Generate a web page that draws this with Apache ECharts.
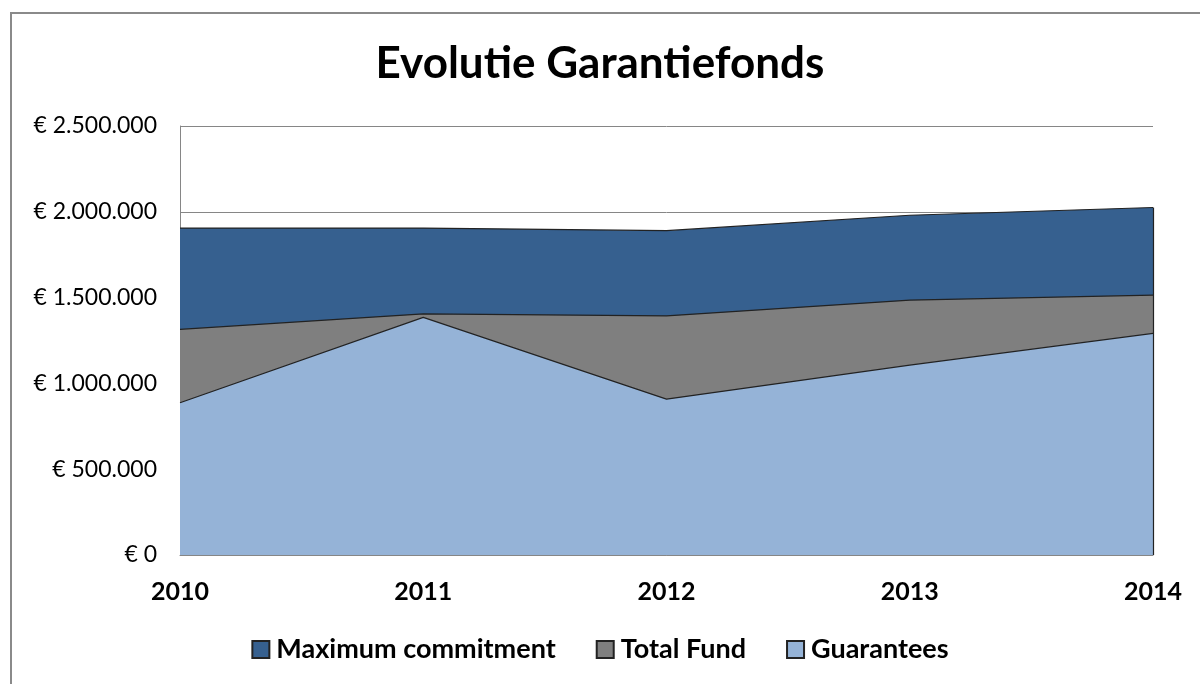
<!DOCTYPE html>
<html>
<head>
<meta charset="utf-8">
<title>Evolutie Garantiefonds</title>
<script src="https://cdn.jsdelivr.net/npm/echarts@6/dist/echarts.min.js"></script>
<style>
  html, body { margin: 0; padding: 0; background: #fff; }
  #main { width: 1200px; height: 684px; }
</style>
</head>
<body>
<div id="main"></div>
<script>
// data
var years = ['2010', '2011', '2012', '2013', '2014'];
var maxCommitment = [1905000, 1905000, 1890000, 1980000, 2025000];
var totalFund = [1315000, 1405000, 1393000, 1485000, 1515000];
var guarantees = [887000, 1385000, 908000, 1107000, 1292000];
var yTicks = [0, 500000, 1000000, 1500000, 2000000, 2500000];

var fontName = 'Lato';

function euro(v) {
  var s = String(Math.round(v)).replace(/\B(?=(\d{3})+(?!\d))/g, '.');
  return '€ ' + s;
}

var chartDom = document.getElementById('main');
var myChart = echarts.init(chartDom);
var option;

option = {
  animation: false,
  textStyle: { fontFamily: fontName },
  title: {
    text: 'Evolutie Garantiefonds',
    left: 'center',
    top: 37,
    textStyle: { fontSize: 44, fontWeight: 'bold', color: '#000', fontFamily: fontName }
  },
  graphic: [
    {
      type: 'rect',
      shape: { x: 11, y: 13, width: 1400, height: 900 },
      style: { fill: 'none', stroke: '#8a8a8a', lineWidth: 2 },
      silent: true
    }
  ],
  legend: {
    bottom: 16,
    left: 'center',
    itemWidth: 17,
    itemHeight: 17,
    itemGap: 40,
    icon: 'rect',
    textStyle: { fontSize: 27, fontWeight: 'bold', color: '#000', fontFamily: fontName, padding: [0, 0, 0, 2] },
    data: ['Maximum commitment', 'Total Fund', 'Guarantees']
  },
  grid: {
    left: 180,
    right: 47,
    top: 126,
    bottom: 129
  },
  xAxis: {
    type: 'category',
    boundaryGap: false,
    data: years,
    axisLine: { show: true, lineStyle: { color: '#868686', width: 1 } },
    axisTick: { show: false },
    axisLabel: {
      fontSize: 25,
      fontWeight: 'bold',
      color: '#000',
      margin: 24,
      fontFamily: fontName
    },
    splitLine: { show: false }
  },
  yAxis: {
    type: 'value',
    min: yTicks[0],
    max: yTicks[yTicks.length - 1],
    interval: yTicks[1] - yTicks[0],
    axisLine: { show: true, lineStyle: { color: '#868686', width: 1 } },
    axisTick: { show: false },
    axisLabel: {
      fontSize: 23,
      color: '#000',
      margin: 23,
      fontFamily: fontName,
      formatter: euro
    },
    splitLine: { show: true, lineStyle: { color: '#868686', width: 1 } }
  },
  series: [
    {
      name: 'Maximum commitment',
      type: 'line',
      data: maxCommitment,
      symbol: 'none',
      z: 2,
      itemStyle: { color: '#36608F', borderColor: '#222', borderWidth: 1 },
      lineStyle: { color: '#222', width: 1.2 },
      areaStyle: { color: '#36608F', opacity: 1 },
      markLine: {
        silent: true,
        symbol: 'none',
        label: { show: false },
        lineStyle: { color: '#222', width: 1.2, type: 'solid' },
        data: [
          [
            { coord: [years[years.length - 1], 0] },
            { coord: [years[years.length - 1], maxCommitment[maxCommitment.length - 1]] }
          ]
        ]
      }
    },
    {
      name: 'Total Fund',
      type: 'line',
      data: totalFund,
      symbol: 'none',
      z: 3,
      itemStyle: { color: '#7F7F7F', borderColor: '#222', borderWidth: 1 },
      lineStyle: { color: '#222', width: 1.2 },
      areaStyle: { color: '#7F7F7F', opacity: 1 }
    },
    {
      name: 'Guarantees',
      type: 'line',
      data: guarantees,
      symbol: 'none',
      z: 4,
      itemStyle: { color: '#95B3D7', borderColor: '#222', borderWidth: 1 },
      lineStyle: { color: '#222', width: 1.2 },
      areaStyle: { color: '#95B3D7', opacity: 1 }
    }
  ]
};

option && myChart.setOption(option);
</script>
</body>
</html>
